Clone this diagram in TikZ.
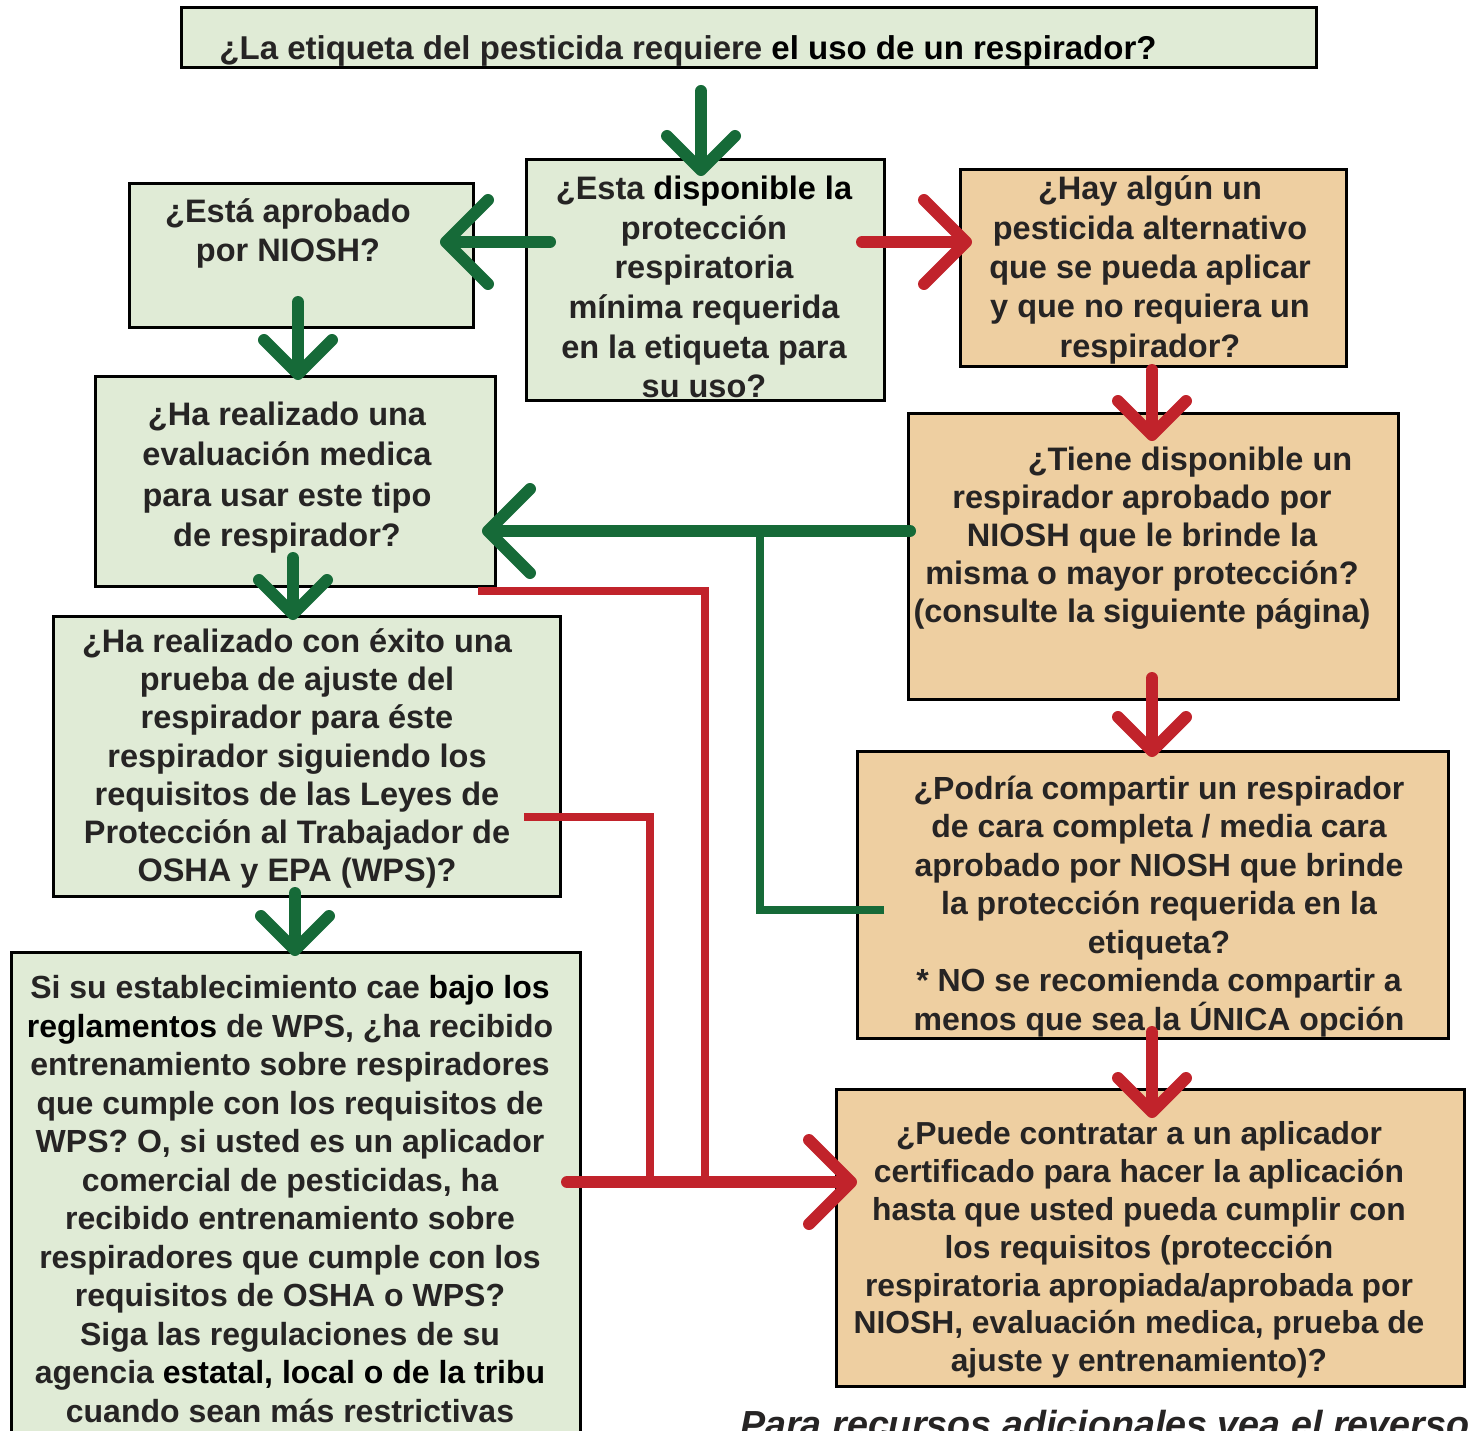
\documentclass[tikz,border=0pt]{standalone}
\usepackage{fontspec}
\setmainfont{Liberation Sans}
\usetikzlibrary{arrows.meta}
\definecolor{gfill}{RGB}{224,235,214}
\definecolor{ofill}{RGB}{238,207,161}
\definecolor{garr}{RGB}{22,106,56}
\definecolor{rarr}{RGB}{193,35,43}
\definecolor{txt}{RGB}{38,36,36}
\tikzset{
  box/.style={draw=black, line width=3pt, inner sep=0pt, outer sep=0pt},
  gbox/.style={box, fill=gfill},
  obox/.style={box, fill=ofill},
  lbl/.style={align=center, inner sep=0pt, text=txt, font=\bfseries\fontsize{32.5}{38.5}\selectfont},
  conn/.style={line cap=round, line join=round},
  gthick/.style={conn, draw=garr, line width=12pt},
  rthick/.style={conn, draw=rarr, line width=12pt},
  gthin/.style={draw=garr, line width=8.5pt, line join=miter},
  rthin/.style={draw=rarr, line width=8.5pt, line join=miter},
  headS/.style={-{Straight Barb[length=34pt,width=68pt,round]}},
  headL/.style={-{Straight Barb[length=42pt,width=84pt,round]}},
}
\begin{document}
\begin{tikzpicture}[x=1pt,y=-1pt]
\useasboundingbox (0,0) rectangle (1470,1431);
\clip (0,0) rectangle (1470,1431);

% boxes
\node[gbox, minimum width=1135pt, minimum height=60pt] (b1) at (748.5,38) {};
\node[gbox, minimum width=358pt, minimum height=240pt] (b2) at (705,280) {};
\node[gbox, minimum width=344pt, minimum height=144pt] (b3) at (301,256) {};
\node[obox, minimum width=386pt, minimum height=196pt] (b4) at (1153,268) {};
\node[gbox, minimum width=400pt, minimum height=210pt] (b5) at (295,481) {};
\node[obox, minimum width=490pt, minimum height=286pt] (b6) at (1153,556) {};
\node[gbox, minimum width=507pt, minimum height=280pt] (b7) at (306.5,756) {};
\node[obox, minimum width=591pt, minimum height=287pt] (b8) at (1152.5,894.5) {};
\node[gbox, minimum width=569pt, minimum height=493pt] (b9) at (295.5,1198.5) {};
\node[obox, minimum width=628pt, minimum height=297pt] (b10) at (1150,1237.5) {};

% texts
\node[lbl, font=\bfseries\fontsize{33}{38.5}\selectfont] (t1) at (688,51) {¿La etiqueta del pesticida requiere \textcolor{black}{el uso de un respirador?}};
\node[lbl, font=\bfseries\fontsize{32.5}{39.6}\selectfont] (t2) at (704,287) {¿Esta \textcolor{black}{disponible la}\\protección\\respiratoria\\mínima requerida\\en la etiqueta para\\su uso?};
\node[lbl, font=\bfseries\fontsize{32.5}{39}\selectfont] (t3) at (288,233.5) {¿Está aprobado\\por NIOSH?};
\node[lbl, font=\bfseries\fontsize{32.5}{39.3}\selectfont] (t4) at (1150,270) {¿Hay algún un\\pesticida alternativo\\que se pueda aplicar\\y que no requiera un\\respirador?};
\node[lbl, font=\bfseries\fontsize{32.5}{40.3}\selectfont] (t5) at (287,477.5) {¿Ha realizado una\\evaluación medica\\para usar este tipo\\de respirador?};
\node[lbl, font=\bfseries\fontsize{32.5}{38}\selectfont] (t6) at (1142,538) {\hspace*{96pt}¿Tiene disponible un\\respirador aprobado por\\NIOSH que le brinde la\\misma o mayor protección?\\(consulte la siguiente página)};
\node[lbl, font=\bfseries\fontsize{32.5}{38.2}\selectfont] (t7) at (297,758.5) {¿Ha realizado con éxito una\\prueba de ajuste del\\respirador para éste\\respirador siguiendo los\\requisitos de las Leyes de\\Protección al Trabajador de\\OSHA y EPA (WPS)?};
\node[lbl, font=\bfseries\fontsize{32}{38.5}\selectfont] (t8) at (1159,906.5) {¿Podría compartir un respirador\\de cara completa / media cara\\aprobado por NIOSH que brinde\\la protección requerida en la\\etiqueta?\\* NO se recomienda compartir a\\menos que sea la ÚNICA opción};
\node[lbl, font=\bfseries\fontsize{32}{38.5}\selectfont] (t9) at (290,1199) {Si su establecimiento cae \textcolor{black}{bajo los}\\\textcolor{black}{reglamentos} de WPS, ¿ha recibido\\entrenamiento sobre respiradores\\que cumple con los requisitos de\\WPS? O, si usted es un aplicador\\comercial de pesticidas, ha\\recibido entrenamiento sobre\\respiradores que cumple con los\\requisitos de OSHA o WPS?\\Siga las regulaciones de su\\agencia \textcolor{black}{estatal, local o de la tribu}\\cuando sean más restrictivas};
\node[lbl, font=\bfseries\fontsize{31.8}{37.8}\selectfont] (t10) at (1139,1250) {¿Puede contratar a un aplicador\\certificado para hacer la aplicación\\hasta que usted pueda cumplir con\\los requisitos (protección\\respiratoria apropiada/aprobada por\\NIOSH, evaluación medica, prueba de\\ajuste y entrenamiento)?};
\node[anchor=base west, inner sep=0pt, text=txt, font=\bfseries\itshape\fontsize{37.7}{40}\selectfont] (foot) at (740,1437) {Para recursos adicionales vea el reverso};

% connector end points
\coordinate (a1s) at (701,91);   \coordinate (a1e) at (701,176);
\coordinate (a2s) at (550,242);  \coordinate (a2e) at (440,242);
\coordinate (a3s) at (862,242);  \coordinate (a3e) at (972,242);
\coordinate (a4s) at (298,302);  \coordinate (a4e) at (298,380);
\coordinate (a5s) at (1152,370); \coordinate (a5e) at (1152,441);
\coordinate (a6s) at (910,531);  \coordinate (a6e) at (482,531);
\coordinate (g6j) at (760,531);  \coordinate (g6s) at (884,910);
\coordinate (a7s) at (293,558);  \coordinate (a7e) at (293,620);
\coordinate (r1s) at (478,591);  \coordinate (r1e) at (705,1182);
\coordinate (a8s) at (1152,678); \coordinate (a8e) at (1152,757);
\coordinate (r2s) at (524,817);  \coordinate (r2e) at (650,1182);
\coordinate (a9s) at (295,893);  \coordinate (a9e) at (295,956);
\coordinate (a10s) at (1152,1032); \coordinate (a10e) at (1152,1118);
\coordinate (a11s) at (567,1182);  \coordinate (a11e) at (857,1182);

% thin connectors
\draw[gthin] (g6s) -| (g6j);
\draw[rthin] (r1s) -| (r1e);
\draw[rthin] (r2s) -| (r2e);

% arrows
\draw[gthick, headS] (a1s) -- (a1e);
\draw[gthick, headL] (a2s) -- (a2e);
\draw[rthick, headL] (a3s) -- (a3e);
\draw[gthick, headS] (a4s) -- (a4e);
\draw[rthick, headS] (a5s) -- (a5e);
\draw[gthick, headL] (a6s) -- (a6e);
\draw[gthick, headS] (a7s) -- (a7e);
\draw[rthick, headS] (a8s) -- (a8e);
\draw[gthick, headS] (a9s) -- (a9e);
\draw[rthick, headS] (a10s) -- (a10e);
\draw[rthick, headL] (a11s) -- (a11e);
\end{tikzpicture}
\end{document}
